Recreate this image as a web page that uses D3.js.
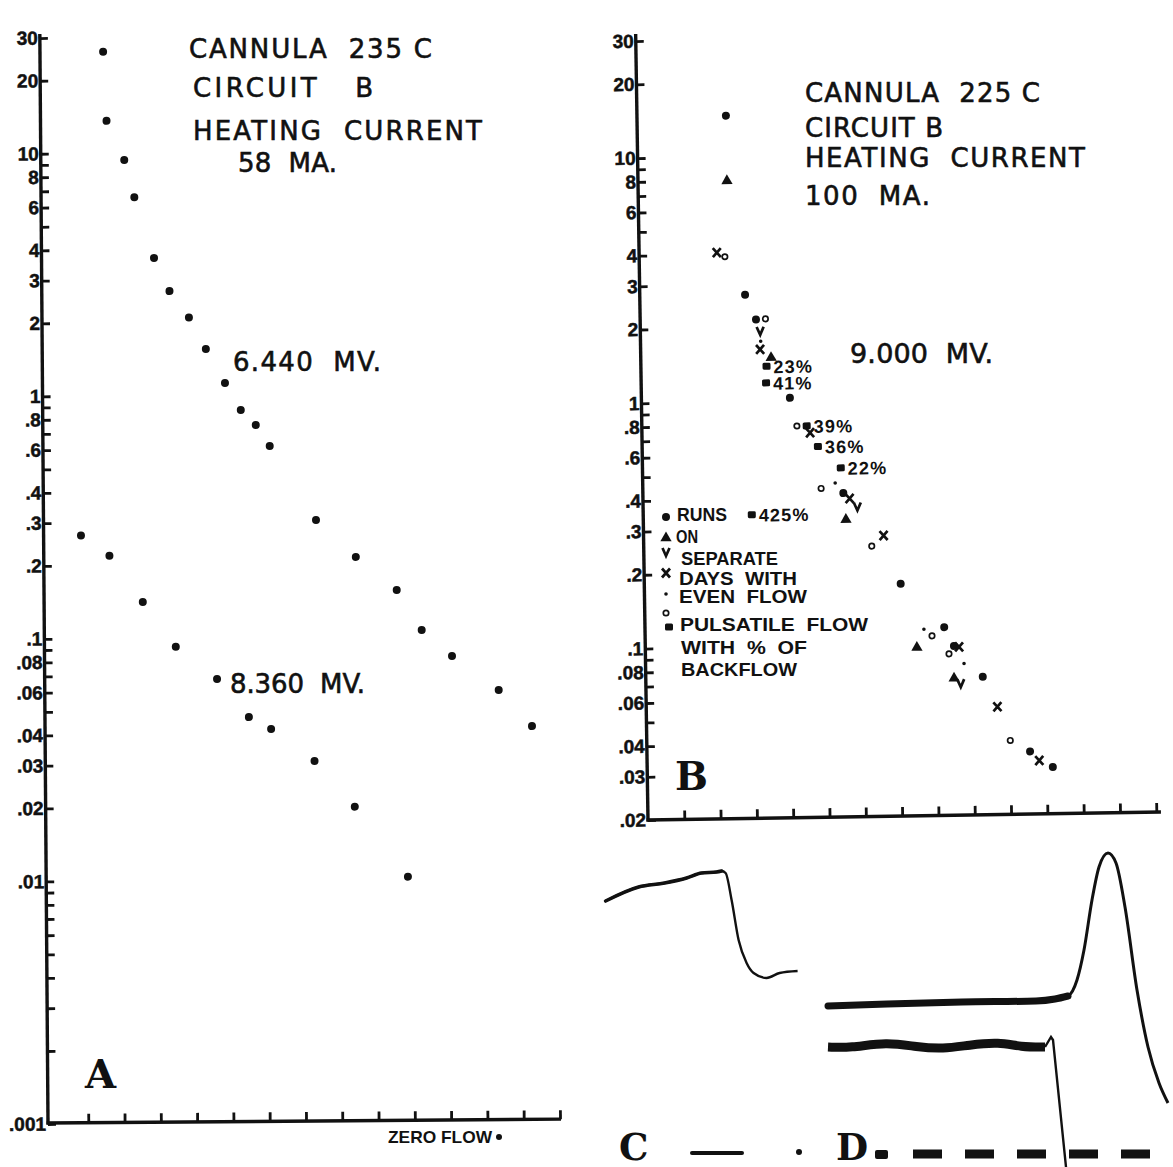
<!DOCTYPE html>
<html>
<head>
<meta charset="utf-8">
<script src="https://cdn.jsdelivr.net/npm/d3@7"></script>
<style>
  body { margin: 0; background: #fff; }
  svg { display: block; }
</style>
</head>
<body>
<div id="chart"></div>
<script>
// ---- panel A : cannula 235 C, two bridge settings ----
const aUpperX = [1.63, 1.71, 2.19, 2.46, 2.99, 3.41, 3.94, 4.40, 4.92, 5.35, 5.76, 6.14, 7.40, 8.49, 9.61, 10.29, 11.12, 12.40, 13.31];
const aUpperY = [26.2, 13.6, 9.37, 6.57, 3.69, 2.69, 2.09, 1.55, 1.12, 0.866, 0.750, 0.614, 0.303, 0.213, 0.155, 0.106, 0.0825, 0.0596, 0.0422];
const aLowerX = [0.92, 1.70, 2.61, 3.51, 4.64, 5.51, 6.12, 7.31, 8.41, 9.86];
const aLowerY = [0.266, 0.219, 0.141, 0.092, 0.0675, 0.0469, 0.0418, 0.0308, 0.0199, 0.0102];

const aTickLabels = ["30", "20", "10", "8", "6", "4", "3", "2", "1", ".8", ".6", ".4", ".3", ".2", ".1", ".08", ".06", ".04", ".03", ".02", ".01", ".001"];
const aMinorTicks = [9, 7, 5, 0.9, 0.7, 0.5, 0.09, 0.07, 0.05, 0.009, 0.008, 0.007, 0.006, 0.005, 0.004, 0.003, 0.002];

// ---- panel B : cannula 225 C, runs on separate days ----
const bX = [2.45, 2.45, 2.14, 2.36, 2.90, 3.19, 3.45, 3.30, 3.31, 3.29, 3.59, 3.46, 3.44, 4.09, 4.27, 4.54, 4.63, 4.84, 5.46, 4.91, 5.30, 5.52, 5.69, 5.90, 5.58, 2.99, 6.61, 6.28, 7.06, 7.68, 7.90, 8.24, 7.48, 8.36, 8.50, 8.64, 8.77, 8.49, 8.67, 9.28, 9.67, 10.01, 10.55, 10.80, 11.17];
const bY = [14.7, 8.05, 4.07, 3.91, 2.73, 2.16, 2.17, 1.94, 1.76, 1.63, 1.52, 1.39, 1.19, 1.03, 0.79, 0.79, 0.74, 0.65, 0.53, 0.438, 0.46, 0.418, 0.397, 0.368, 0.329, 0.346, 0.279, 0.253, 0.177, 0.115, 0.108, 0.117, 0.098, 0.091, 0.098, 0.097, 0.083, 0.073, 0.069, 0.073, 0.055, 0.040, 0.036, 0.033, 0.031];
const bKind = ["dot", "tri", "x", "open", "dot", "dot", "open", "v", "small", "x", "tri", "sq", "sq", "dot", "open", "sq", "x", "sq", "sq", "open", "small", "dot", "x", "v", "tri", "sq", "x", "open", "dot", "small", "open", "dot", "tri", "open", "dot", "x", "small", "tri", "v", "dot", "x", "open", "dot", "x", "dot"];
const pctIndex = [11, 12, 15, 17, 18, 25];
const pctText = ["23%", "41%", "39%", "36%", "22%", "425%"];

const bTickLabels = ["30", "20", "10", "8", "6", "4", "3", "2", "1", ".8", ".6", ".4", ".3", ".2", ".1", ".08", ".06", ".04", ".03", ".02"];
const bMinorTicks = [9, 7, 5, 0.9, 0.7, 0.5, 0.09, 0.07, 0.05];
const xTicks = [1, 2, 3, 4, 5, 6, 7, 8, 9, 10, 11, 12, 13, 14];

const legendKinds = ["dot", "tri", "v", "x", "small", "open", "sq"];
const legendLines = ["RUNS", "ON", "SEPARATE", "DAYS  WITH", "EVEN  FLOW", "PULSATILE  FLOW", "WITH  %  OF", "BACKFLOW"];

// ---- panels C, D : recorder traces ----
const cT = [0, 33, 59, 81, 96, 111, 116, 120, 126, 133, 141, 148, 161, 174, 192];
const cV = [77, 91, 95, 100, 105, 106, 107, 105, 78, 38, 15, 5, 0, 5, 7];
const dUpperT = [0, 59, 134, 208, 227, 240, 249, 256, 264, 271, 280, 288, 297, 309, 320, 331, 340];
const dUpperV = [159, 161, 163, 164, 166, 169, 185, 215, 265, 298, 312, 302, 258, 175, 118, 82, 62];
const dLowerT = [0, 22, 59, 89, 115, 141, 171, 193, 217, 223, 225, 238];
const dLowerV = [118, 117, 123, 118, 116, 120, 123, 118, 118, 128, 125, -2];

const ink = "#111";
const titleFont = "'DejaVu Sans', sans-serif";
const boldFont = "'Liberation Sans', Arial, sans-serif";
const serifFont = "'DejaVu Serif', serif";

const svg = d3.select("#chart").append("svg").attr("width", 1173).attr("height", 1167)
  .style("background", "#fff");

function addText(parent, str, x, y, size, family, weight, len, squeeze) {
  const t = parent.append("text")
    .attr("x", x).attr("y", y)
    .attr("font-size", size)
    .attr("font-family", family)
    .attr("font-weight", weight || "normal")
    .attr("fill", ink)
    .style("white-space", "pre")
    .text(str);
  if (len) t.attr("textLength", len).attr("lengthAdjust", squeeze ? "spacingAndGlyphs" : "spacing");
  return t;
}

function drawMarker(g, kind, cx, cy) {
  if (kind == "dot") {
    g.append("circle").attr("cx", cx).attr("cy", cy).attr("r", 4).attr("fill", ink);
  } else if (kind == "small") {
    g.append("circle").attr("cx", cx).attr("cy", cy).attr("r", 1.8).attr("fill", ink);
  } else if (kind == "open") {
    g.append("circle").attr("cx", cx).attr("cy", cy).attr("r", 2.7)
      .attr("fill", "#fff").attr("stroke", ink).attr("stroke-width", 1.7);
  } else if (kind == "tri") {
    g.append("path").attr("d", d3.symbol(d3.symbolTriangle, 55)())
      .attr("transform", "translate(" + cx + "," + (cy + 1) + ")").attr("fill", ink);
  } else if (kind == "x") {
    g.append("path").attr("d", "M-4,-4.5L4,4.5M4,-4.5L-4,4.5")
      .attr("transform", "translate(" + cx + "," + cy + ")")
      .attr("stroke", ink).attr("stroke-width", 2.7).attr("fill", "none");
  } else if (kind == "v") {
    g.append("path").attr("d", "M-3.5,-4L0,4L3.5,-4")
      .attr("transform", "translate(" + cx + "," + cy + ")")
      .attr("stroke", ink).attr("stroke-width", 2.7).attr("fill", "none");
  } else if (kind == "sq") {
    g.append("rect").attr("x", cx - 4).attr("y", cy - 3.5).attr("width", 8).attr("height", 7)
      .attr("rx", 1.5).attr("fill", ink);
  }
}

function drawAxes(g, x, y, axisX, baseY, xEnd, yTop, labels, minor) {
  const labelVals = labels.map(function (s) { return parseFloat(s); });
  const yAxis = d3.axisLeft(y)
    .tickValues(labelVals.concat(minor))
    .tickSize(-8)
    .tickPadding(2)
    .tickFormat(function (d) {
      const i = labelVals.indexOf(d);
      return i >= 0 ? labels[i] : "";
    });
  const gy = g.append("g").attr("transform", "translate(" + axisX + ",0)").call(yAxis);
  gy.select(".domain").remove();
  gy.selectAll(".tick line").attr("stroke", ink).attr("stroke-width", 2.8);
  gy.selectAll(".tick text")
    .attr("fill", ink)
    .attr("stroke", ink)
    .attr("stroke-width", 0.5)
    .attr("font-family", boldFont)
    .attr("font-weight", "bold")
    .attr("font-size", 19);

  const xAxis = d3.axisBottom(x).tickValues(xTicks).tickSize(-9).tickFormat("");
  const gx = g.append("g").attr("transform", "translate(0," + baseY + ")").call(xAxis);
  gx.select(".domain").remove();
  gx.selectAll(".tick line").attr("stroke", ink).attr("stroke-width", 2.8);

  g.append("line").attr("x1", axisX).attr("x2", axisX).attr("y1", baseY + 1.5).attr("y2", yTop)
    .attr("stroke", ink).attr("stroke-width", 3.4);
  g.append("line").attr("x1", axisX - 1.5).attr("x2", xEnd).attr("y1", baseY).attr("y2", baseY)
    .attr("stroke", ink).attr("stroke-width", 3.4);
}

function heavy(t) {
  return t.attr("stroke", ink).attr("stroke-width", 0.6);
}

// ================= panel A =================
const ax = d3.scaleLinear().domain([0, 14]).range([52, 560]);
const ay = d3.scaleLog().domain([0.001, 30]).range([1124, 38]);
const gA = svg.append("g").attr("transform", "rotate(-0.43,48,1123)");
drawAxes(gA, ax, ay, 48, 1123, 561, 34, aTickLabels, aMinorTicks);

gA.selectAll("circle.upper")
  .data(d3.zip(aUpperX, aUpperY))
  .enter().append("circle")
  .attr("class", "upper")
  .attr("cx", function (d) { return ax(d[0]); })
  .attr("cy", function (d) { return ay(d[1]); })
  .attr("r", 4)
  .attr("fill", ink);

gA.selectAll("circle.lower")
  .data(d3.zip(aLowerX, aLowerY))
  .enter().append("circle")
  .attr("class", "lower")
  .attr("cx", function (d) { return ax(d[0]); })
  .attr("cy", function (d) { return ay(d[1]); })
  .attr("r", 4)
  .attr("fill", ink);

heavy(addText(svg, "CANNULA  235 C", 189, 58, 26, titleFont, null, 243));
heavy(addText(svg, "CIRCUIT   B", 193, 97, 26, titleFont, null, 180));
heavy(addText(svg, "HEATING  CURRENT", 193, 140, 26, titleFont, null, 289));
heavy(addText(svg, "58  MA.", 238, 172, 26, titleFont, null, 99));
heavy(addText(svg, "6.440  MV.", 233, 371, 26, titleFont, null, 148));
heavy(addText(svg, "8.360  MV.", 230, 693, 26, titleFont, null, 135));
addText(svg, "A", 85, 1088, 40, serifFont, "bold");
addText(svg, "ZERO FLOW", 388, 1143, 17, boldFont, "bold", 104, true);
svg.append("circle").attr("cx", 499).attr("cy", 1137).attr("r", 3).attr("fill", ink);

// ================= panel B =================
const bx = d3.scaleLinear().domain([0, 14.1]).range([648, 1160]);
const by = d3.scaleLog().domain([0.02, 30]).range([820, 41]);
const gB = svg.append("g").attr("transform", "rotate(-0.9,648,820)");
drawAxes(gB, bx, by, 648, 820, 1161, 34, bTickLabels, bMinorTicks);

for (let i = 0; i < bX.length; i++) {
  drawMarker(gB, bKind[i], bx(bX[i]), by(bY[i]));
}
for (let j = 0; j < pctIndex.length; j++) {
  const k = pctIndex[j];
  addText(gB, pctText[j], bx(bX[k]) + 7, by(bY[k]) + 7, 18, boldFont, "bold")
    .attr("letter-spacing", 1.2);
}

heavy(addText(svg, "CANNULA  225 C", 805, 102, 26, titleFont, null, 235));
heavy(addText(svg, "CIRCUIT B", 805, 137, 26, titleFont, null, 138));
heavy(addText(svg, "HEATING  CURRENT", 805, 167, 26, titleFont, null, 280));
heavy(addText(svg, "100  MA.", 805, 205, 26, titleFont, null, 125));
heavy(addText(svg, "9.000  MV.", 850, 363, 27, titleFont, null, 143));
addText(svg, "B", 675, 790, 39, serifFont, "bold");

// legend of panel B
const legMarkY = [517, 537, 552, 573, 594, 613, 627];
legendKinds.forEach(function (k, i) {
  drawMarker(svg, k, k == "sq" ? 669 : 666, legMarkY[i]);
});
const legTextPos = [[677, 521, 50], [676, 543, 22], [681, 565, 97], [679, 585, 118], [679, 603, 128], [680, 631, 188], [681, 654, 126], [681, 676, 116]];
legendLines.forEach(function (s, i) {
  const p = legTextPos[i];
  addText(svg, s, p[0], p[1], 18, boldFont, "bold", p[2], true);
});

// ================= panels C and D =================
const cx = d3.scaleLinear().domain([0, 192]).range([605.6, 797.6]);
const cy = d3.scaleLinear().domain([0, 110]).range([978, 868]);
const cLine = d3.line()
  .x(function (d) { return cx(d[0]); })
  .y(function (d) { return cy(d[1]); })
  .curve(d3.curveMonotoneX);
const cData = d3.zip(cT, cV);
svg.append("path").attr("d", cLine(cData)).attr("fill", "none")
  .attr("stroke", ink).attr("stroke-width", 2.4).attr("stroke-linejoin", "round");
svg.append("path").attr("d", cLine(cData.slice(0, 7))).attr("fill", "none")
  .attr("stroke", ink).attr("stroke-width", 3.6).attr("stroke-linecap", "round");

const dx = d3.scaleLinear().domain([0, 345]).range([828, 1173]);
const dy = d3.scaleLinear().domain([0, 320]).range([1165, 845]);
const dSmooth = d3.line()
  .x(function (d) { return dx(d[0]); })
  .y(function (d) { return dy(d[1]); })
  .curve(d3.curveMonotoneX);
const dStraight = d3.line()
  .x(function (d) { return dx(d[0]); })
  .y(function (d) { return dy(d[1]); });

const dUp = d3.zip(dUpperT, dUpperV);
svg.append("path").attr("d", dSmooth(dUp.slice(4))).attr("fill", "none")
  .attr("stroke", ink).attr("stroke-width", 3);
svg.append("path").attr("d", dSmooth(dUp.slice(0, 6))).attr("fill", "none")
  .attr("stroke", ink).attr("stroke-width", 7).attr("stroke-linecap", "round");

const dLo = d3.zip(dLowerT, dLowerV);
svg.append("path").attr("d", d3.line()
    .x(function (d) { return dx(d[0]); })
    .y(function (d) { return dy(d[1]); })
    .curve(d3.curveBasis)(dLo.slice(0, 9)))
  .attr("fill", "none").attr("stroke", ink).attr("stroke-width", 9);
svg.append("path").attr("d", dStraight(dLo.slice(8))).attr("fill", "none")
  .attr("stroke", ink).attr("stroke-width", 2.4);

// C / D key along the bottom
addText(svg, "C", 619, 1160, 37, serifFont, "bold");
svg.append("line").attr("x1", 692).attr("x2", 742).attr("y1", 1153).attr("y2", 1153)
  .attr("stroke", ink).attr("stroke-width", 4).attr("stroke-linecap", "round");
svg.append("circle").attr("cx", 799).attr("cy", 1152).attr("r", 3).attr("fill", ink);
addText(svg, "D", 836, 1160, 37, serifFont, "bold");
svg.append("rect").attr("x", 875).attr("y", 1150).attr("width", 13).attr("height", 9).attr("rx", 2).attr("fill", ink);
svg.append("line").attr("x1", 913).attr("x2", 1152).attr("y1", 1154).attr("y2", 1154)
  .attr("stroke", ink).attr("stroke-width", 9).attr("stroke-dasharray", "29 23");
</script>
</body>
</html>
